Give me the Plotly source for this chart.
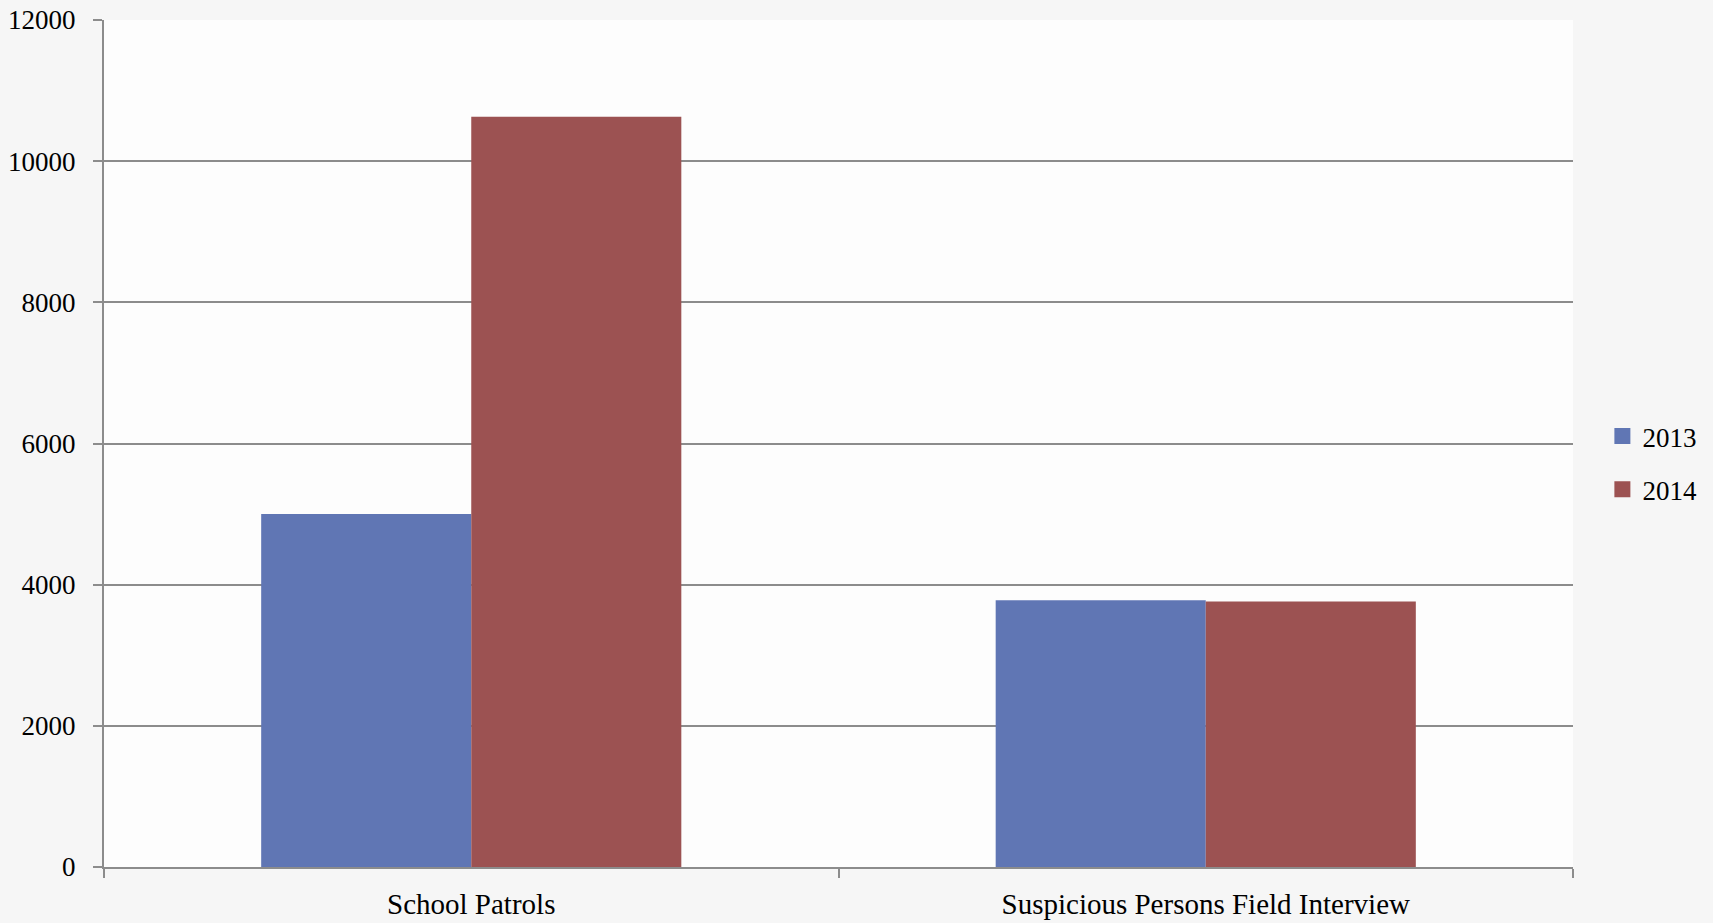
import plotly.graph_objects as go

categories = ["School Patrols", "Suspicious Persons Field Interview"]
series_names = ["2013", "2014"]
values_2013 = [5000, 3780]
values_2014 = [10630, 3760]
y_ticks = [0, 2000, 4000, 6000, 8000, 10000, 12000]

colors = ["#6076B4", "#9C5252"]
font_family = "Liberation Serif, DejaVu Serif, serif"

fig = go.Figure()
for name, vals, col in zip(series_names, [values_2013, values_2014], colors):
    fig.add_trace(go.Bar(
        x=categories, y=vals, name=name, legendgroup=name, showlegend=False,
        marker=dict(color=col, line=dict(width=0)),
    ))
# legend entries with square swatches
for name, col in zip(series_names, colors):
    fig.add_trace(go.Scatter(
        x=[None], y=[None], mode="markers", name=name, legendgroup=name,
        marker=dict(symbol="square", size=16, color=col),
    ))

fig.update_layout(
    width=1713, height=923,
    margin=dict(l=104, r=140, t=20, b=56, autoexpand=False),
    paper_bgcolor="#f6f6f6",
    plot_bgcolor="#fdfdfd",
    barmode="group",
    bargap=0.428,
    bargroupgap=0,
    font=dict(family=font_family, size=27, color="#000000"),
    legend=dict(
        x=1.02, xanchor="left", y=0.477, yanchor="middle",
        font=dict(size=27), bgcolor="rgba(0,0,0,0)",
        traceorder="grouped", tracegroupgap=15, itemwidth=30,
    ),
    showlegend=True,
)
fig.update_yaxes(
    range=[0, 12000], tickvals=y_ticks, ticktext=[str(v) for v in y_ticks],
    showgrid=True, gridcolor="#8c8c8c", gridwidth=2,
    showline=True, linecolor="#8c8c8c", linewidth=2,
    ticks="outside", ticklen=9, tickcolor="#8c8c8c", tickwidth=2,
    zeroline=False, ticklabelstandoff=12, automargin=False,
)
fig.update_xaxes(
    showline=True, linecolor="#8c8c8c", linewidth=2,
    ticks="outside", ticklen=9, tickcolor="#8c8c8c", tickwidth=2,
    tickson="boundaries", showgrid=False, ticklabelstandoff=10,
    automargin=False, tickfont=dict(size=29),
)
fig.write_html("out.html", config={"displayModeBar": False},
               post_script="document.body.style.margin='0';")
